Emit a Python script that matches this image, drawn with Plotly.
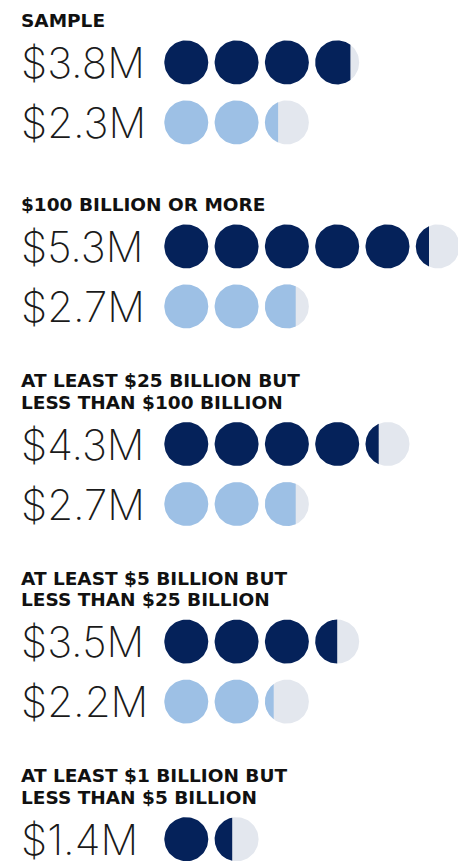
import numpy as np
import plotly.graph_objects as go

# Average cost per group, in $ millions (one circle = $1M)
group_titles = [
    ["SAMPLE"],
    ["$100 BILLION OR MORE"],
    ["AT LEAST $25 BILLION BUT", "LESS THAN $100 BILLION"],
    ["AT LEAST $5 BILLION BUT", "LESS THAN $25 BILLION"],
    ["AT LEAST $1 BILLION BUT", "LESS THAN $5 BILLION"],
]
dark_values = [3.8, 5.3, 4.3, 3.5, 1.4]
light_values = [2.3, 2.7, 2.7, 2.2, None]

NAVY = "#05225A"
LIGHT = "#9DC0E5"
EMPTY = "#E3E7EE"

W, H = 458, 862
PX = 50.3            # pixels per $1M along the axis
DIAM = 0.875         # circle diameter, in $M units
LEFT_PX = 164.3      # pixel where the $0 mark sits

# vertical layout (pixels)
ROW_STEP = 60
HEAD_LINE = 21.6
HEAD_TO_ROW = 41.7
GROUP_GAP = 74.3


def circle_poly(cx, cy, r, frac, n=90):
    """Left portion of a circle, filled up to `frac` of its width."""
    t0 = np.arccos(np.clip(2 * frac - 1, -1, 1))
    t = np.linspace(t0, 2 * np.pi - t0, n)
    xs = cx + r * np.cos(t)
    ys = cy + r * np.sin(t)
    return list(xs) + [xs[0]], list(ys) + [ys[0]]


def add_poly(store, xs, ys):
    store[0].extend(xs + [None])
    store[1].extend(ys + [None])


empty_poly = ([], [])
fill_polys = {NAVY: ([], []), LIGHT: ([], [])}
annotations = []

y_px = 20.7
rows = []
for gi, title_lines in enumerate(group_titles):
    if gi > 0:
        y_px += GROUP_GAP + (8 if len(title_lines) == 1 else 0)
    for li, line in enumerate(title_lines):
        annotations.append(dict(
            text=line, xref="paper", yref="y", x=19 / W, y=y_px / PX,
            xanchor="left", yanchor="middle", showarrow=False,
            font=dict(family="DejaVu Sans", size=18.5, color="#111111", weight="bold"),
        ))
        if li < len(title_lines) - 1:
            y_px += HEAD_LINE
    y_px += HEAD_TO_ROW
    series = [(dark_values[gi], NAVY), (light_values[gi], LIGHT)]
    series = [s for s in series if s[0] is not None]
    for si, (val, col) in enumerate(series):
        if si > 0:
            y_px += ROW_STEP
        rows.append((y_px / PX, val, col))

r = DIAM / 2
for cy, val, col in rows:
    n_full = int(np.floor(val + 1e-9))
    part = round(val - n_full, 3)
    for i in range(n_full):
        xs, ys = circle_poly(i + r, cy, r, 1.0)
        add_poly(fill_polys[col], xs, ys)
    if part > 0:
        xs, ys = circle_poly(n_full + r, cy, r, 1.0)
        add_poly(empty_poly, xs, ys)
        xs, ys = circle_poly(n_full + r, cy, r, part)
        add_poly(fill_polys[col], xs, ys)
    annotations.append(dict(
        text=f"${val:.1f}M", xref="paper", yref="y", x=19 / W, y=cy,
        xanchor="left", yanchor="middle", showarrow=False,
        font=dict(family="Inter", size=42, color="#1a1a1a", weight=150),
    ))

fig = go.Figure()
fig.add_trace(go.Scatter(x=empty_poly[0], y=empty_poly[1], mode="lines",
                         fill="toself", fillcolor=EMPTY, line=dict(width=0),
                         hoverinfo="skip"))
for col, (xs, ys) in fill_polys.items():
    fig.add_trace(go.Scatter(x=xs, y=ys, mode="lines", fill="toself",
                             fillcolor=col, line=dict(width=0), hoverinfo="skip"))

fig.update_layout(
    width=W, height=H, margin=dict(l=0, r=0, t=0, b=0),
    paper_bgcolor="white", plot_bgcolor="white", showlegend=False,
    annotations=annotations,
    xaxis=dict(range=[-LEFT_PX / PX, (W - LEFT_PX) / PX], visible=False, fixedrange=True),
    yaxis=dict(range=[H / PX, 0], visible=False, fixedrange=True),
)
fig.write_html("out.html", config={"displayModeBar": False})
